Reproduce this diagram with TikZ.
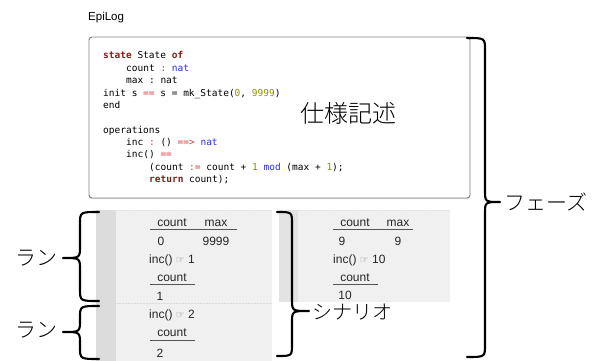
\documentclass[tikz,border=0pt]{standalone}
\usepackage{fontspec}
\setmainfont{Liberation Serif}
\setsansfont{Liberation Sans}
\setmonofont{DejaVu Sans Mono}
\newfontfamily\cjk{Noto Sans CJK JP Light}
\newfontfamily\symfont{DejaVu Sans}
\usetikzlibrary{shadows}

\definecolor{kw}{HTML}{8B1A1A}
\definecolor{op}{HTML}{D9383A}
\definecolor{ty}{HTML}{2A2AF0}
\definecolor{num}{HTML}{8F8F00}
\definecolor{panel}{HTML}{F0F0F0}
\definecolor{strip}{HTML}{DCDCDC}
\definecolor{rule}{HTML}{555555}

% brace opening to the right: (x end, x stem, x tip, y top, y tip, y bottom)
\newcommand\bracetoleft[6]{%
  \draw[brace] (#1,#4) .. controls (#2,#4) .. (#2,#4+12) -- (#2,#5-12)
    .. controls (#2,#5) .. (#3,#5) .. controls (#2,#5) .. (#2,#5+12)
    -- (#2,#6-12) .. controls (#2,#6) .. (#1,#6);}

\tikzset{
  brace/.style={line width=2.1pt, black, line cap=round, line join=round},
  codeline/.style={anchor=base west, inner sep=0pt,
    font=\ttfamily\fontsize{9.5}{12}\selectfont},
  cell/.style={anchor=base, inner sep=0pt,
    font=\sffamily\fontsize{12}{14}\selectfont, text=black!85},
  cellw/.style={cell, anchor=base west},
  uline/.style={rule, line width=0.9pt},
  jlabel/.style={inner sep=0pt, font=\cjk\fontsize{21}{23}\selectfont},
}
\newcommand\hand{\textcolor{black!45}{\symfont\fontsize{10}{12}\selectfont ☞}}

\begin{document}
\begin{tikzpicture}[x=1pt,y=-1pt]
\useasboundingbox[fill=white] (0,0) rectangle (592,361);

\node[anchor=west, inner sep=0pt, font=\sffamily\fontsize{11.5}{13}\selectfont]
  (title) at (88,18) {EpiLog};

% specification box
\node[draw=black!50, fill=white, rounded corners=3pt, line width=0.9pt,
  minimum width=381pt, minimum height=161pt, inner sep=0pt,
  drop shadow={shadow xshift=0pt, shadow yshift=-1.2pt, opacity=0.25}]
  (spec) at (279.5,117.5) {};

\node[codeline] (c1) at (103,59) {\textcolor{kw}{\bfseries state} State \textcolor{kw}{\bfseries of}};
\node[codeline] (c2) at (126,72) {count \textcolor{op}{:} \textcolor{ty}{nat}};
\node[codeline] (c3) at (126,84) {max : nat};
\node[codeline] (c4) at (103,96) {init s \textcolor{op}{==} s = mk\_State(\textcolor{num}{0}, \textcolor{num}{9999})};
\node[codeline] (c5) at (103,108) {end};
\node[codeline] (c6) at (103,133) {operations};
\node[codeline] (c7) at (126,145) {inc \textcolor{op}{:} () \textcolor{op}{==>} \textcolor{ty}{nat}};
\node[codeline] (c8) at (126,157) {inc() \textcolor{op}{==}};
\node[codeline] (c9) at (149,170) {(count \textcolor{op}{:=} count + \textcolor{num}{1} \textcolor{ty}{mod} (max + \textcolor{num}{1});};
\node[codeline] (c10) at (149,182) {\textcolor{kw}{\bfseries return} count);};

\node[jlabel, font=\cjk\fontsize{24}{26}\selectfont] (spectext) at (348,113) {仕様記述};

% scenario panels
\fill[strip] (96,210) rectangle (116,361);
\fill[panel] (116,210) rectangle (272,361);
\draw[black!12, dash pattern=on 2pt off 1pt] (116,210.5) -- (272,210.5);
\draw[black!15, dash pattern=on 2pt off 1pt] (116,303) -- (272,303);

\fill[strip!80!white] (279,210) rectangle (298,302);
\fill[panel] (298,210) rectangle (450,302);
\draw[black!12, dash pattern=on 2pt off 1pt] (298,210.5) -- (450,210.5);

% first run
\node[cell] (h1) at (172,226) {count};
\node[cell] (h2) at (216,226) {max};
\draw[uline] (150,229.5) -- (237,229.5);
\node[cell] (v1) at (161,245) {0};
\node[cell] (v2) at (216,245) {9999};
\node[cellw] (op1) at (149,263) {inc() \hand\ 1};
\node[cell] (h3) at (172,281) {count};
\draw[uline] (150,284) -- (195,284);
\node[cell] (v3) at (160,300) {1};

% second run
\node[cellw] (op2) at (149,318) {inc() \hand\ 2};
\node[cell] (h4) at (172,336) {count};
\draw[uline] (150,340) -- (195,340);
\node[cell] (v4) at (160,357) {2};

% second scenario
\node[cell] (h5) at (355,226) {count};
\node[cell] (h6) at (398,226) {max};
\draw[uline] (333,229.5) -- (413,229.5);
\node[cell] (v5) at (342,245) {9};
\node[cell] (v6) at (398,245) {9};
\node[cellw] (op3) at (333,263) {inc() \hand\ 10};
\node[cell] (h7) at (355,281) {count};
\draw[uline] (333,284) -- (378,284);
\node[cell] (v7) at (345,299) {10};

% braces
\bracetoleft{467}{485}{500}{38}{202}{357}
\bracetoleft{277}{292}{309}{212}{311}{356}
\bracetoleft{99}{80}{63}{212}{258}{301}
\bracetoleft{99}{80}{63}{306}{332}{359}

\node[jlabel, anchor=west] (phase) at (504,202) {フェーズ};
\node[jlabel, anchor=west, font=\cjk\fontsize{20}{22}\selectfont] (scen) at (312,312) {シナリオ};
\node[jlabel, anchor=east] (run1) at (58,258) {ラン};
\node[jlabel, anchor=east] (run2) at (58,330) {ラン};
\end{tikzpicture}
\end{document}
